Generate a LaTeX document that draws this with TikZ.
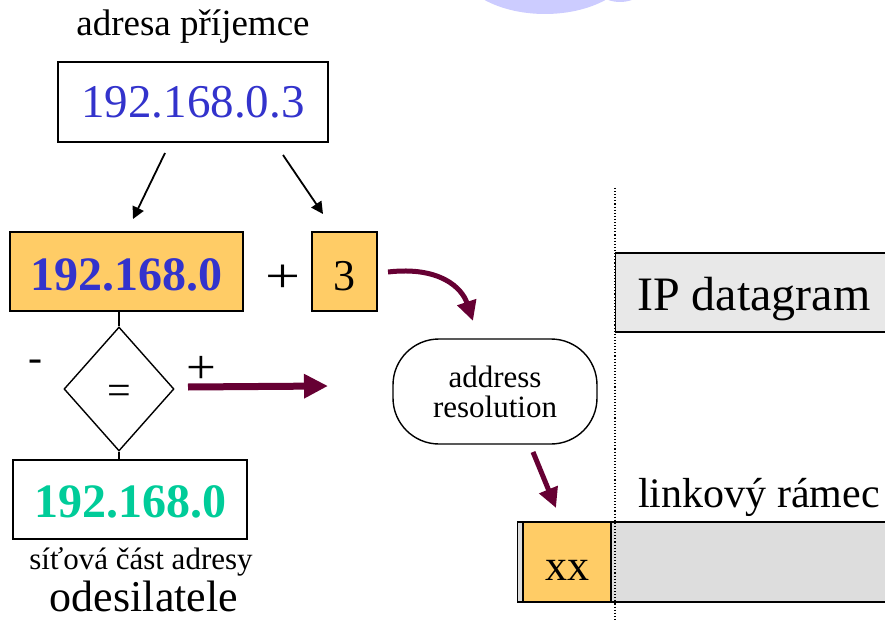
\documentclass[tikz,border=0pt]{standalone}
\usepackage{fontspec}
\setmainfont{Liberation Serif}
\usetikzlibrary{arrows.meta,shapes.geometric}
\definecolor{ipblue}{HTML}{3333CC}
\definecolor{boxorange}{HTML}{FFCC66}
\definecolor{netgreen}{HTML}{00CC99}
\definecolor{maroon}{HTML}{660033}
\definecolor{lav}{HTML}{CCCCFF}
\definecolor{dgray}{HTML}{E8E8E8}
\definecolor{fgray}{HTML}{DDDDDD}
\newcommand{\myfsz}[1]{\fontsize{#1}{#1}\selectfont}
\tikzset{
  boxplain/.style={draw=black, line width=1.4pt, inner sep=0pt, text depth=0pt},
  boxorg/.style={boxplain, fill=boxorange},
  blkarrow/.style={line width=1.8pt, -{Triangle[length=12pt,width=12pt]}},
  marrow/.style={draw=maroon, line width=#1, -{Triangle[length=20pt,width=19pt]}},
  lbl/.style={inner sep=0pt, anchor=base},
}
\begin{document}
\begin{tikzpicture}[x=1pt,y=-1pt]
\useasboundingbox (0,0) rectangle (885,620);
\clip (0,0) rectangle (885,620);
% decorative ellipses at top
\fill[lav] (545,-40) ellipse [x radius=90, y radius=54];
\fill[lav] (620,-23) ellipse [x radius=30, y radius=25];

% title
\node[lbl] (title) at (193,36) {\myfsz{37}adresa příjemce};
% recipient address
\node[boxplain, minimum width=270pt, minimum height=80pt, text height=32pt, text=ipblue]
  (ip) at (193,102) {\myfsz{47}192.168.0.3};

% split parts
\node[boxorg, minimum width=233pt, minimum height=79pt, text height=37pt, text=ipblue]
  (net) at (126.5,271.5) {\myfsz{48}\bfseries 192.168.0};
\node[boxorg, minimum width=65pt, minimum height=79pt, text height=37pt]
  (host) at (344.5,271.5) {\myfsz{44}3};
\node[inner sep=0pt] (plus) at (283,279) {\scalebox{1.15}[0.9]{\myfsz{54}+}};

% arrows from address
\coordinate (a1s) at (165,153); \coordinate (a1e) at (133,219);
\coordinate (a2s) at (283,155); \coordinate (a2e) at (323,214);
\draw[blkarrow] (a1s) -- (a1e);
\draw[blkarrow] (a2s) -- (a2e);

% comparison diamond
\node[diamond, draw=black, line width=1.4pt, minimum width=110pt, minimum height=124pt, inner sep=0pt]
  (cmp) at (119,389) {};
\node[inner sep=0pt] (eq) at (119,395) {\myfsz{42}=};
\draw[line width=1.2pt] (net.south -| cmp.north) -- (cmp.north);
\node[inner sep=0pt] (minus) at (35,366) {\myfsz{42}-};
\node[inner sep=0pt] (plus2) at (201,370) {\scalebox{1.1}[1]{\myfsz{48}+}};

% sender network part
\node[boxplain, minimum width=234pt, minimum height=79pt, text height=35pt, text=netgreen]
  (snet) at (130,499.5) {\myfsz{48}\bfseries 192.168.0};
\draw[line width=1.2pt] (cmp.south) -- (cmp.south |- snet.north);
\node[lbl] (snetl1) at (141,569) {\myfsz{31}síťová část adresy};
\node[lbl] (snetl2) at (144,611) {\myfsz{44}odesilatele};

% address resolution
\node[draw=black, line width=1.4pt, rounded corners=46pt, minimum width=204pt, minimum height=105pt,
  align=center, inner sep=0pt, font={\fontsize{31}{30}\selectfont}]
  (ares) at (495,391.5) {address\\resolution};

% maroon arrows
\coordinate (m1s) at (188,387); \coordinate (m1e) at (328,386);
\draw[draw=maroon, line width=7pt, -{Triangle[length=24pt,width=23pt]}] (m1s) -- (m1e);
\coordinate (m2s) at (388,272); \coordinate (m2e) at (473,321);
\draw[marrow=5pt] (m2s) .. controls (440,266) and (462,288) .. (m2e);
\coordinate (m3s) at (533,452); \coordinate (m3e) at (556,508);
\draw[marrow=5pt] (m3s) -- (m3e);

% IP datagram
\node[draw=black, fill=dgray, line width=1.4pt, anchor=west, minimum width=290pt,
  minimum height=79pt, inner sep=0pt]
  (dgram) at (615,292.5) {};
\node[lbl, anchor=base west] (dgraml) at (637,310) {\myfsz{48}IP datagram};

% link frame
\node[lbl, anchor=base west] (frl) at (638,507) {\myfsz{42}linkový rámec};
\node[draw=black, fill=fgray, line width=1.4pt, anchor=west, minimum width=380pt, minimum height=80pt, inner sep=0pt]
  (frame) at (517,562) {};
\node[boxorg, minimum width=88pt, minimum height=80pt, text height=36pt]
  (xx) at (567,562) {\myfsz{44}xx};

% dotted separator
\coordinate (dtop) at (615,188); \coordinate (dbot) at (615,620);
\draw[dotted, line width=1.1pt] (dtop) -- (dbot);
\end{tikzpicture}
\end{document}
